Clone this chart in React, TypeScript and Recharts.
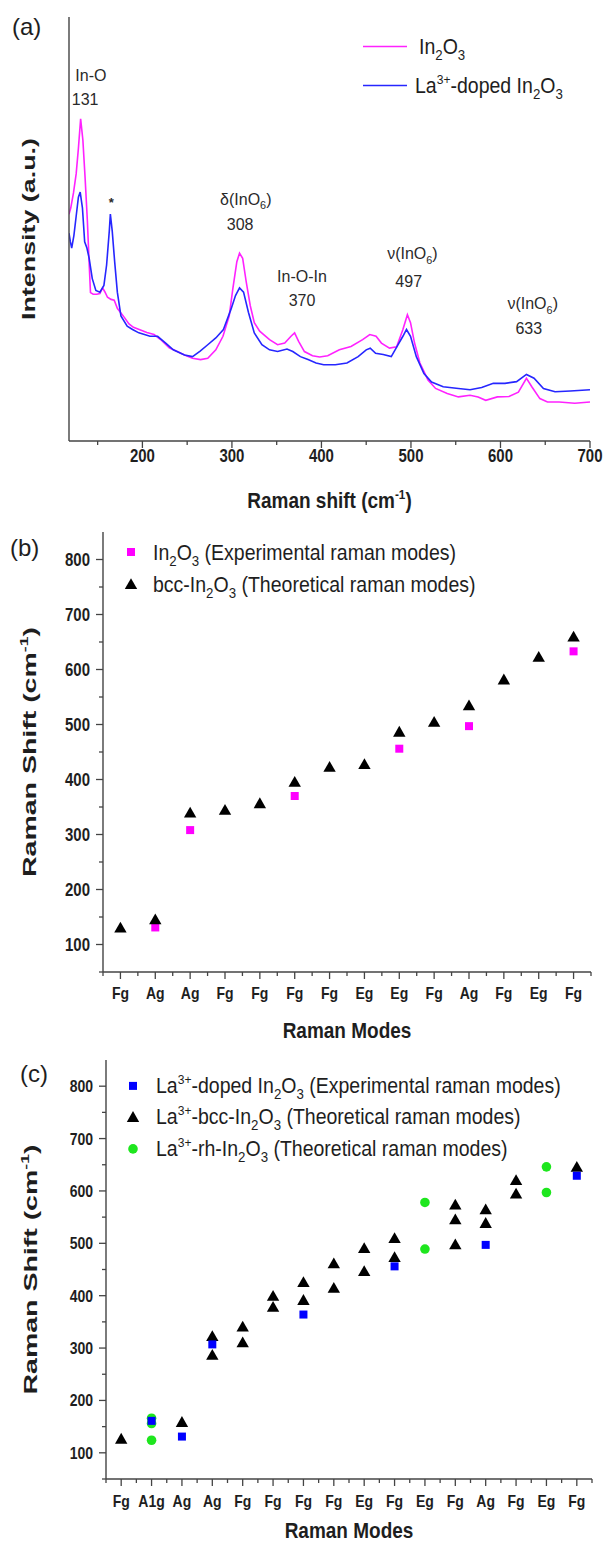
import React from 'react';
import {
  LineChart,
  Line,
  ScatterChart,
  Scatter,
  XAxis,
  YAxis,
  ReferenceDot,
  Legend,
  Label,
} from 'recharts';

const FONT = '"Liberation Sans", Arial, Helvetica, sans-serif';
const AXIS_COLOR = '#444444';
const TEXT_COLOR = '#1e1e1e';
const PINK = '#ff22ff';
const BLUE = '#2626ff';
const MAGENTA = '#ff00ff';
const SQ_BLUE = '#0000ff';
const GREEN = '#1ee61e';
const TICK_STRETCH = 1.2;
const TITLE_STRETCH = 1.12;
const LEGEND_STRETCH = 1.1;

// ---------- Panel (a): Raman spectra ----------
const in2o3Shift = [118, 120, 123, 126, 128.5, 131, 133.5, 136, 138.5, 140.5, 142, 145, 149, 152.5, 155.5, 158, 161, 165, 168.5, 172, 176, 180, 185, 190, 195, 200, 205, 213, 220, 230, 240, 247, 256, 265, 273, 282, 290, 297, 301, 305.5, 308.5, 312, 316, 320.5, 325, 331, 342, 351, 359, 366, 370, 374.5, 381, 390, 398, 407, 420, 433, 446, 454, 461, 467, 476, 484, 491, 496, 499.5, 504, 510, 519, 527.5, 540.5, 553, 566, 575, 583.5, 596.5, 609.5, 620, 629, 635, 644, 652.5, 665.5, 683, 700];
const in2o3Intensity = [53.5, 55, 58.5, 63, 69, 76, 71, 62, 52, 42, 35, 34.6, 34.6, 34.8, 36.1, 35.2, 33.9, 33.4, 33.2, 31.3, 30.2, 29.1, 27.6, 26.8, 26.4, 26, 25.6, 25.1, 24, 22, 21, 20.3, 19.5, 19.2, 19.5, 21.5, 24.7, 29.5, 35.9, 42.3, 44.3, 43.1, 37.5, 31.9, 27.9, 25.9, 23.9, 22.7, 23.1, 24.7, 25.5, 23.5, 21.1, 20.1, 19.8, 20.1, 21.5, 22.3, 23.9, 25.1, 24.7, 23.1, 21.9, 22.2, 26.3, 29.8, 27.9, 23.1, 18.4, 14.4, 12.4, 11.2, 10.4, 10.8, 10.4, 9.6, 10.4, 10.5, 11.5, 14.8, 12.8, 10, 9.2, 9.2, 8.9, 9.2];

const laDopedShift = [118, 119.5, 121, 123.5, 126, 128.5, 130.5, 133, 135.5, 138, 140.5, 144, 148, 152.5, 157, 160, 163, 164.2, 166.3, 169, 172, 176, 183, 189, 196, 208.5, 217, 226, 234.5, 247, 256, 264.5, 273, 282, 290.5, 299, 304, 308.5, 313, 318.5, 325, 333.5, 342, 351, 361.5, 368, 376.5, 385, 394, 402.5, 415.5, 428.5, 441, 450, 454.5, 460.5, 469, 478, 484.5, 491, 495, 499.5, 506, 514.5, 523, 536, 553, 566, 579, 592, 605, 618, 629, 637.5, 648, 661, 678, 700];
const laDopedIntensity = [49, 47, 45.5, 48.5, 53, 57.5, 58.7, 55, 47, 45.5, 43.1, 38.3, 35.5, 35.1, 36.7, 41.5, 49.5, 53.5, 49.5, 42.3, 35.1, 29.5, 27.1, 26.3, 25.5, 24.7, 24.7, 23.1, 21.5, 20.3, 19.9, 21.2, 22.7, 24.3, 26.3, 31.1, 34.3, 36.1, 35.1, 30.3, 25.5, 22.7, 21.5, 21.1, 21.7, 21.1, 19.9, 19.2, 18.4, 18, 18, 18.4, 19.9, 21.5, 21.9, 20.7, 20.4, 19.9, 22.3, 24.7, 26.3, 24.7, 19.9, 15.9, 13.9, 12.8, 12.4, 12.1, 12.6, 13.6, 13.6, 14, 15.7, 14.8, 12.4, 11.6, 11.8, 12.1];

const shiftAxisTicks = [150, 200, 250, 300, 350, 400, 450, 500, 550, 600, 650, 700];
const peakNames = ['In-O', '*', 'δ(InO_6)', 'In-O-In', 'ν(InO_6)', 'ν(InO_6)'];
const peakShifts = ['131', '', '308', '370', '497', '633'];

// ---------- Panel (b): In2O3 modes ----------
const modesB = ['Fg', 'Ag', 'Ag', 'Fg', 'Fg', 'Fg', 'Fg', 'Eg', 'Eg', 'Fg', 'Ag', 'Fg', 'Eg', 'Fg'];
const expB = [null, 131, 308, null, null, 370, null, null, 456, null, 497, null, null, 633];
const theoB = [131, 146, 340, 345, 357, 396, 423, 428, 487, 505, 535, 582, 623, 660];

// ---------- Panel (c): La-doped In2O3 modes ----------
const modesC = ['Fg', 'A1g', 'Ag', 'Ag', 'Fg', 'Fg', 'Fg', 'Fg', 'Eg', 'Fg', 'Eg', 'Fg', 'Ag', 'Fg', 'Eg', 'Fg'];
const expC = [null, 161, 131, 307, null, null, 364, null, null, 456, null, null, 497, null, null, 629];
const bccC = [[127], [], [159], [323, 287], [341, 311], [400, 379], [426, 392], [462, 415], [491, 447], [510, 474], [], [574, 546, 498], [565, 539], [621, 595], [], [646]];
const rhC = [[], [166, 156, 124], [], [], [], [], [], [], [], [], [578, 489], [], [], [], [646, 597], []];

const modeShiftTicks = [50, 100, 150, 200, 250, 300, 350, 400, 450, 500, 550, 600, 650, 700, 750, 800];

// ---------- helpers ----------
function splitChem(s: string) {
  return s.split(/(_[0-9]+|\^\{[^}]+\})/).filter((p) => p.length > 0);
}

function renderChemSvg(s: string, fs: number) {
  const out: any[] = [];
  let shift = 0;
  splitChem(s).forEach((p, i) => {
    if (p.startsWith('_')) {
      out.push(<tspan key={i} dy={0.3 * fs - shift} fontSize={0.68 * fs}>{p.slice(1)}</tspan>);
      shift = 0.3 * fs;
    } else if (p.startsWith('^')) {
      out.push(<tspan key={i} dy={-0.42 * fs - shift} fontSize={0.62 * fs}>{p.slice(2, -1)}</tspan>);
      shift = -0.42 * fs;
    } else {
      out.push(<tspan key={i} dy={-shift}>{p}</tspan>);
      shift = 0;
    }
  });
  return out;
}

function renderChemHtml(s: string, fs: number) {
  return splitChem(s).map((p, i) => {
    if (p.startsWith('_')) {
      return <span key={i} style={{ fontSize: 0.68 * fs, position: 'relative', top: 0.32 * fs, lineHeight: 0 }}>{p.slice(1)}</span>;
    }
    if (p.startsWith('^')) {
      return <span key={i} style={{ fontSize: 0.62 * fs, position: 'relative', top: -0.42 * fs, lineHeight: 0 }}>{p.slice(2, -1)}</span>;
    }
    return <span key={i}>{p}</span>;
  });
}

// text whose visual centre sits at (x, cy), slightly stretched vertically like the source figure
function StretchText({ x, cy, fs, anchor, bold, stretch, children }: any) {
  const baseline = cy + 0.36 * fs * stretch;
  return (
    <text
      transform={`translate(${x},${baseline}) scale(1,${stretch})`}
      x={0}
      y={0}
      textAnchor={anchor}
      fontFamily={FONT}
      fontWeight={bold ? 'bold' : 'normal'}
      fontSize={fs}
      fill={TEXT_COLOR}
    >
      {children}
    </text>
  );
}

type TickCfg = {
  isMajor: (v: number) => boolean;
  label: (v: number) => string;
  majorLen: number;
  minorLen: number;
  fontSize: number;
  offset: number;
};

const makeBottomTick = (cfg: TickCfg) => (props: any) => {
  const { x, y, payload } = props;
  const v = payload.value;
  const major = cfg.isMajor(v);
  return (
    <g>
      <line x1={x} x2={x} y1={y} y2={y + (major ? cfg.majorLen : cfg.minorLen)} stroke={AXIS_COLOR} strokeWidth={1.3} />
      {major && (
        <StretchText x={x} cy={y + cfg.offset} fs={cfg.fontSize} anchor="middle" bold stretch={TICK_STRETCH}>
          {cfg.label(v)}
        </StretchText>
      )}
    </g>
  );
};

const makeLeftTick = (cfg: TickCfg) => (props: any) => {
  const { x, y, payload } = props;
  const v = payload.value;
  const major = cfg.isMajor(v);
  return (
    <g>
      <line x1={x - (major ? cfg.majorLen : cfg.minorLen)} x2={x} y1={y} y2={y} stroke={AXIS_COLOR} strokeWidth={1.3} />
      {major && (
        <StretchText x={x - cfg.offset} cy={y} fs={cfg.fontSize} anchor="end" bold stretch={TICK_STRETCH}>
          {cfg.label(v)}
        </StretchText>
      )}
    </g>
  );
};

function XTitle({ viewBox, dy, text }: any) {
  const fs = 19;
  return (
    <StretchText x={viewBox.x + viewBox.width / 2} cy={viewBox.y + dy} fs={fs} anchor="middle" bold stretch={TITLE_STRETCH}>
      {renderChemSvg(text, fs)}
    </StretchText>
  );
}

function YTitle({ viewBox, cx, length, text }: any) {
  const fs = 19;
  const cy = viewBox.y + viewBox.height / 2;
  return (
    <text
      transform={`translate(${cx},${cy}) rotate(-90)`}
      x={0}
      y={0}
      textAnchor="middle"
      fontFamily={FONT}
      fontWeight="bold"
      fontSize={fs}
      fill={TEXT_COLOR}
      textLength={length}
      lengthAdjust="spacingAndGlyphs"
    >
      {renderChemSvg(text, fs)}
    </text>
  );
}

function PeakText({ viewBox, text, fs, bold }: any) {
  return (
    <text x={viewBox.x} y={viewBox.y + fs * 0.36} textAnchor="middle" fontFamily={FONT} fontSize={fs} fontWeight={bold ? 'bold' : 'normal'} fill="#2a2a2a">
      {renderChemSvg(text, fs)}
    </text>
  );
}

function LegendRow({ height, markerWidth, marker, textLeft, text, fontSize }: any) {
  return (
    <div style={{ position: 'relative', height }}>
      <svg width={markerWidth} height={height} style={{ position: 'absolute', left: 0, top: 0 }}>
        {marker(markerWidth / 2, height / 2)}
      </svg>
      <div
        style={{
          position: 'absolute',
          left: textLeft,
          top: 0,
          height,
          lineHeight: `${height}px`,
          whiteSpace: 'nowrap',
          fontSize,
          fontFamily: FONT,
          color: TEXT_COLOR,
          transform: `scaleY(${LEGEND_STRETCH})`,
          transformOrigin: '0 50%',
        }}
      >
        {renderChemHtml(text, fontSize)}
      </div>
    </div>
  );
}

const squareMarker = (color: string, size: number) => (cx: number, cy: number) => (
  <rect x={cx - size / 2} y={cy - size / 2} width={size} height={size} fill={color} />
);
const triangleMarker = (cx: number, cy: number) => (
  <path d={`M${cx},${cy - 5.8}L${cx + 6.2},${cy + 5}L${cx - 6.2},${cy + 5}Z`} fill="#000" />
);
const circleMarker = (cx: number, cy: number) => <circle cx={cx} cy={cy} r={4.8} fill={GREEN} />;
const lineMarker = (color: string) => (cx: number, cy: number) => (
  <line x1={0} x2={cx * 2} y1={cy} y2={cy} stroke={color} strokeWidth={1.7} />
);

const squareShape = (color: string, size: number) => (p: any) => squareMarker(color, size)(p.cx, p.cy);
const triangleShape = (p: any) => triangleMarker(p.cx, p.cy);
const circleShape = (p: any) => circleMarker(p.cx, p.cy);

const axisLineStyle = { stroke: AXIS_COLOR, strokeWidth: 1.4 };

// ---------- Panel A ----------
function PanelA() {
  const pink = in2o3Shift.map((x, i) => ({ x, y: in2o3Intensity[i] }));
  const blue = laDopedShift.map((x, i) => ({ x, y: laDopedIntensity[i] }));
  const xTick = makeBottomTick({
    isMajor: (v) => v % 100 === 0,
    label: (v) => String(v),
    majorLen: 7,
    minorLen: 4,
    fontSize: 15,
    offset: 15,
  });
  const spots = [
    { text: peakNames[0], x: 142.5, y: 86.3 },
    { text: peakShifts[0], x: 136, y: 80.6 },
    { text: peakNames[1], x: 165.3, y: 56.2, fs: 13, bold: true },
    { text: peakNames[2], x: 315.5, y: 57.1 },
    { text: peakShifts[2], x: 309.2, y: 51.1 },
    { text: peakNames[3], x: 378.3, y: 38.8 },
    { text: peakShifts[3], x: 378.3, y: 33.1 },
    { text: peakNames[4], x: 501.6, y: 44.3 },
    { text: peakShifts[4], x: 497.5, y: 37.6 },
    { text: peakNames[5], x: 636, y: 32.4 },
    { text: peakShifts[5], x: 631.6, y: 26.7 },
  ];
  return (
    <LineChart width={605} height={520} margin={{ top: 17, right: 15, bottom: 0, left: 0 }}>
      <XAxis
        xAxisId="x"
        type="number"
        dataKey="x"
        domain={[118, 700]}
        allowDataOverflow
        ticks={shiftAxisTicks}
        interval={0}
        tick={xTick}
        tickLine={false}
        tickSize={0}
        tickMargin={0}
        height={79}
        axisLine={axisLineStyle}
      >
        <Label content={(p: any) => <XTitle viewBox={p.viewBox} dy={59} text="Raman shift (cm^{-1})" />} />
      </XAxis>
      <XAxis xAxisId="top" orientation="top" type="number" domain={[118, 700]} allowDataOverflow height={0} tick={false} tickLine={false} axisLine={axisLineStyle} />
      <YAxis yAxisId="y" type="number" domain={[0, 100]} allowDataOverflow width={69} tick={false} tickLine={false} axisLine={axisLineStyle}>
        <Label content={(p: any) => <YTitle viewBox={p.viewBox} cx={35} length={182} text="Intensity (a.u.)" />} />
      </YAxis>
      <YAxis yAxisId="right" orientation="right" type="number" domain={[0, 100]} allowDataOverflow width={0} tick={false} tickLine={false} axisLine={axisLineStyle} />
      <Line xAxisId="x" yAxisId="y" data={pink} dataKey="y" type="linear" stroke={PINK} strokeWidth={1.6} dot={false} isAnimationActive={false} />
      <Line xAxisId="x" yAxisId="y" data={blue} dataKey="y" type="linear" stroke={BLUE} strokeWidth={1.6} dot={false} isAnimationActive={false} />
      {spots.map((s, i) => (
        <ReferenceDot
          key={i}
          xAxisId="x"
          yAxisId="y"
          x={s.x}
          y={s.y}
          r={0}
          fill="none"
          stroke="none"
          ifOverflow="visible"
          label={(p: any) => <PeakText viewBox={p.viewBox} text={s.text} fs={s.fs || 16} bold={s.bold} />}
        />
      ))}
      <Legend
        layout="vertical"
        align="center"
        verticalAlign="middle"
        wrapperStyle={{ top: 26.5, left: 363, width: 230, height: 78 }}
        content={() => (
          <div>
            <LegendRow height={39} markerWidth={44} marker={lineMarker(PINK)} textLeft={56} text="In_2O_3" fontSize={19.5} />
            <LegendRow height={39} markerWidth={44} marker={lineMarker(BLUE)} textLeft={52} text="La^{3+}-doped In_2O_3" fontSize={19.5} />
          </div>
        )}
      />
    </LineChart>
  );
}

// ---------- Panel B ----------
function PanelB() {
  const exp = modesB.map((_, i) => ({ x: i + 1, y: expB[i] })).filter((p) => p.y != null);
  const theo = theoB.map((y, i) => ({ x: i + 1, y }));
  const xTicks = Array.from({ length: modesB.length * 2 + 1 }, (_, i) => 0.5 + i / 2);
  const xTick = makeBottomTick({
    isMajor: (v) => Number.isInteger(v),
    label: (v) => modesB[v - 1],
    majorLen: 7,
    minorLen: 4,
    fontSize: 14,
    offset: 21,
  });
  const yTick = makeLeftTick({
    isMajor: (v) => v % 100 === 0,
    label: (v) => String(v),
    majorLen: 7,
    minorLen: 4,
    fontSize: 15,
    offset: 13,
  });
  return (
    <ScatterChart width={605} height={540} margin={{ top: 12, right: 14, bottom: 0, left: 0 }}>
      <XAxis
        xAxisId="x"
        type="number"
        dataKey="x"
        domain={[0.5, modesB.length + 0.5]}
        allowDataOverflow
        ticks={xTicks}
        interval={0}
        tick={xTick}
        tickLine={false}
        tickSize={0}
        tickMargin={0}
        height={88}
        axisLine={axisLineStyle}
      >
        <Label content={(p: any) => <XTitle viewBox={p.viewBox} dy={58} text="Raman Modes" />} />
      </XAxis>
      <XAxis xAxisId="top" orientation="top" type="number" domain={[0.5, modesB.length + 0.5]} allowDataOverflow height={0} tick={false} tickLine={false} axisLine={axisLineStyle} />
      <YAxis
        yAxisId="y"
        type="number"
        dataKey="y"
        domain={[50, 850]}
        allowDataOverflow
        ticks={modeShiftTicks}
        interval={0}
        tick={yTick}
        tickLine={false}
        tickSize={0}
        tickMargin={0}
        width={103}
        axisLine={axisLineStyle}
      >
        <Label content={(p: any) => <YTitle viewBox={p.viewBox} cx={36} length={250} text="Raman Shift (cm^{-1})" />} />
      </YAxis>
      <YAxis yAxisId="right" orientation="right" type="number" domain={[50, 850]} allowDataOverflow width={0} tick={false} tickLine={false} axisLine={axisLineStyle} />
      <Scatter xAxisId="x" yAxisId="y" data={exp} shape={squareShape(MAGENTA, 8)} isAnimationActive={false} />
      <Scatter xAxisId="x" yAxisId="y" data={theo} shape={triangleShape} isAnimationActive={false} />
      <Legend
        layout="vertical"
        align="center"
        verticalAlign="middle"
        wrapperStyle={{ top: 16, left: 123, width: 420, height: 64 }}
        content={() => (
          <div>
            <LegendRow height={32} markerWidth={16} marker={squareMarker(MAGENTA, 8)} textLeft={30} text="In_2O_3 (Experimental raman modes)" fontSize={19.5} />
            <LegendRow height={32} markerWidth={16} marker={triangleMarker} textLeft={30} text="bcc-In_2O_3 (Theoretical raman modes)" fontSize={19.5} />
          </div>
        )}
      />
    </ScatterChart>
  );
}

// ---------- Panel C ----------
function PanelC() {
  const exp = modesC.map((_, i) => ({ x: i + 1, y: expC[i] })).filter((p) => p.y != null);
  const bcc = bccC.flatMap((vals, i) => vals.map((y) => ({ x: i + 1, y })));
  const rh = rhC.flatMap((vals, i) => vals.map((y) => ({ x: i + 1, y })));
  const xTicks = Array.from({ length: modesC.length * 2 + 1 }, (_, i) => 0.5 + i / 2);
  const xTick = makeBottomTick({
    isMajor: (v) => Number.isInteger(v),
    label: (v) => modesC[v - 1],
    majorLen: 7,
    minorLen: 4,
    fontSize: 14,
    offset: 22,
  });
  const yTick = makeLeftTick({
    isMajor: (v) => v % 100 === 0,
    label: (v) => String(v),
    majorLen: 7,
    minorLen: 4,
    fontSize: 14,
    offset: 13,
  });
  return (
    <ScatterChart width={605} height={491} margin={{ top: 10, right: 13, bottom: 0, left: 0 }}>
      <XAxis
        xAxisId="x"
        type="number"
        dataKey="x"
        domain={[0.5, modesC.length + 0.5]}
        allowDataOverflow
        ticks={xTicks}
        interval={0}
        tick={xTick}
        tickLine={false}
        tickSize={0}
        tickMargin={0}
        height={62}
        axisLine={axisLineStyle}
      >
        <Label content={(p: any) => <XTitle viewBox={p.viewBox} dy={51} text="Raman Modes" />} />
      </XAxis>
      <XAxis xAxisId="top" orientation="top" type="number" domain={[0.5, modesC.length + 0.5]} allowDataOverflow height={0} tick={false} tickLine={false} axisLine={axisLineStyle} />
      <YAxis
        yAxisId="y"
        type="number"
        dataKey="y"
        domain={[50, 850]}
        allowDataOverflow
        ticks={modeShiftTicks}
        interval={0}
        tick={yTick}
        tickLine={false}
        tickSize={0}
        tickMargin={0}
        width={106}
        axisLine={axisLineStyle}
      >
        <Label content={(p: any) => <YTitle viewBox={p.viewBox} cx={37} length={250} text="Raman Shift (cm^{-1})" />} />
      </YAxis>
      <YAxis yAxisId="right" orientation="right" type="number" domain={[50, 850]} allowDataOverflow width={0} tick={false} tickLine={false} axisLine={axisLineStyle} />
      <Scatter xAxisId="x" yAxisId="y" data={rh} shape={circleShape} isAnimationActive={false} />
      <Scatter xAxisId="x" yAxisId="y" data={bcc} shape={triangleShape} isAnimationActive={false} />
      <Scatter xAxisId="x" yAxisId="y" data={exp} shape={squareShape(SQ_BLUE, 8)} isAnimationActive={false} />
      <Legend
        layout="vertical"
        align="center"
        verticalAlign="middle"
        wrapperStyle={{ top: 19.6, left: 125, width: 450, height: 96 }}
        content={() => (
          <div>
            <LegendRow height={31.8} markerWidth={16} marker={squareMarker(SQ_BLUE, 8)} textLeft={31} text="La^{3+}-doped In_2O_3 (Experimental raman modes)" fontSize={19.5} />
            <LegendRow height={31.8} markerWidth={16} marker={triangleMarker} textLeft={31} text="La^{3+}-bcc-In_2O_3 (Theoretical raman modes)" fontSize={19.5} />
            <LegendRow height={31.8} markerWidth={16} marker={circleMarker} textLeft={31} text="La^{3+}-rh-In_2O_3 (Theoretical raman modes)" fontSize={19.5} />
          </div>
        )}
      />
    </ScatterChart>
  );
}

const panelLetter = (text: string, left: number, top: number) => (
  <div style={{ position: 'absolute', left, top, fontFamily: FONT, fontSize: 24, color: TEXT_COLOR, lineHeight: '28px' }}>{text}</div>
);

export default function App() {
  return (
    <div style={{ position: 'absolute', left: 0, top: 0, width: 605, height: 1541, background: '#ffffff', overflow: 'hidden' }}>
      <div style={{ position: 'absolute', left: 0, top: 0 }}>
        <PanelA />
      </div>
      <div style={{ position: 'absolute', left: 0, top: 520 }}>
        <PanelB />
      </div>
      <div style={{ position: 'absolute', left: 0, top: 1050 }}>
        <PanelC />
      </div>
      {panelLetter('(a)', 12, 13)}
      {panelLetter('(b)', 10, 534)}
      {panelLetter('(c)', 20, 1060)}
    </div>
  );
}
